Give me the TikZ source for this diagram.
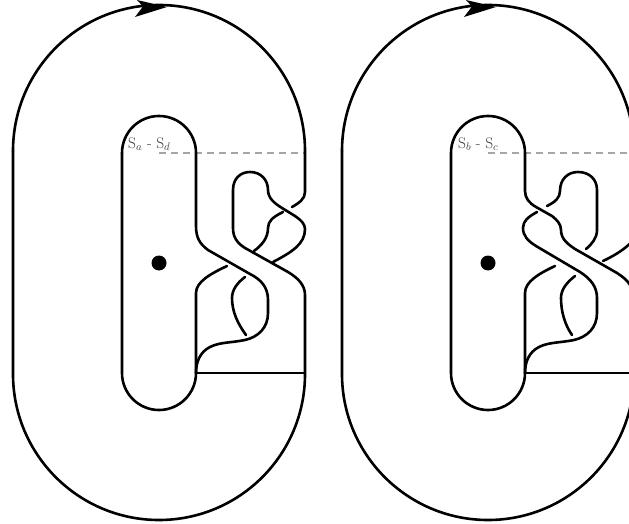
\documentclass[tikz,border=0pt]{standalone}
\tikzset{
  strand/.style={line width=2.6bp,line cap=round,line join=round},
  seam/.style={line width=1.6bp,draw=black!35,dash pattern=on 6.5bp off 5.5bp},
  lab/.style={text=black!75,font=\fontsize{15.5}{18}\selectfont,inner sep=0pt,anchor=west},
  head/.style={fill=black,draw=none}
}
\begin{document}
\begin{tikzpicture}[x=1bp,y=-1bp]
\useasboundingbox (0,0) rectangle (629,524);
\clip (0,0) rectangle (629,524);
% ---------- left diagram ----------
\draw[seam] (159,153) -- (305,153);
\node[lab] (labL) at (128,144) {S$_a$ - S$_d$};
\draw[strand] (13,151) arc[start angle=180,end angle=360,radius=146] -- (305,192)
  .. controls (305,199) and (299,203) .. (292,207);
\draw[strand] (13,151) -- (13,374) arc[start angle=180,end angle=0,radius=146] -- (305,295)
  .. controls (305,285) and (298,278) .. (288,272) -- (245,248)
  .. controls (237,243) and (233,237) .. (233,228) -- (233,190)
  .. controls (233,178) and (241,172) .. (250,172)
  .. controls (261,172) and (268,180) .. (268,190)
  .. controls (268,198) and (274,203) .. (282,208) -- (295,216)
  .. controls (301,220) and (305,224) .. (305,229)
  .. controls (305,244) and (292,252) .. (273,262);
\draw[strand] (122,153) arc[start angle=180,end angle=360,radius=37] -- (196,226)
  .. controls (196,238) and (200,244) .. (208,250) -- (250,274)
  .. controls (262,280) and (268,288) .. (268,300) -- (268,313)
  .. controls (268,328) and (258,337) .. (245,340)
  .. controls (230,343) and (220,342) .. (210,347)
  .. controls (200,352) and (196,362) .. (196,373);
\draw[strand] (122,153) -- (122,373) arc[start angle=180,end angle=0,radius=37] -- (196,293)
  .. controls (196,282) and (210,274) .. (227,266);
\draw[strand] (283,212) .. controls (273,217) and (268,221) .. (268,228)
  .. controls (268,238) and (262,245) .. (254,251);
\draw[strand] (245,277) .. controls (237,283) and (232,290) .. (232,298)
  .. controls (232,312) and (238,324) .. (246,335);
\draw[strand] (196,373) -- (305,373);
\fill[black] (159,263) circle[radius=7.5];
\fill[head] (167,7) -- (137,0) -- (143,6.5) -- (135,17) -- cycle;
% ---------- right diagram ----------
\draw[seam] (488,153) -- (634,153);
\node[lab] (labR) at (458,144) {S$_b$ - S$_c$};
\draw[strand] (342,151) arc[start angle=180,end angle=360,radius=146];
\draw[strand] (342,151) -- (342,374) arc[start angle=180,end angle=0,radius=146] -- (634,300)
  .. controls (634,287) and (628,280) .. (617,273) -- (575,249)
  .. controls (566,243) and (561,238) .. (561,230)
  .. controls (561,224) and (557,220) .. (552,216) -- (536,207)
  .. controls (529,203) and (525,198) .. (525,191) -- (525,153)
  arc[start angle=360,end angle=180,radius=37] -- (451,373)
  arc[start angle=180,end angle=0,radius=37] -- (525,293)
  .. controls (525,282) and (538,274) .. (555,266);
\draw[strand] (547,206) .. controls (555,202) and (560,198) .. (560,191)
  .. controls (560,179) and (568,172) .. (578,172)
  .. controls (589,172) and (597,179) .. (597,190) -- (597,230)
  .. controls (597,238) and (592,244) .. (586,249);
\draw[strand] (537,212) .. controls (528,217) and (523,221) .. (523,228)
  .. controls (523,236) and (528,241) .. (536,246) -- (580,272)
  .. controls (591,279) and (597,287) .. (597,298) -- (597,313)
  .. controls (597,328) and (587,337) .. (574,340)
  .. controls (559,343) and (549,342) .. (539,347)
  .. controls (529,352) and (525,362) .. (525,373);
\draw[strand] (575,276) .. controls (566,283) and (561,290) .. (561,298)
  .. controls (561,312) and (565,325) .. (572,335);
\draw[strand] (603,261) .. controls (620,253) and (634,243) .. (640,230);
\draw[strand] (525,373) -- (634,373);
\fill[black] (488,263) circle[radius=7.5];
\fill[head] (496,7) -- (466,0) -- (472,6.5) -- (464,17) -- cycle;
\end{tikzpicture}
\end{document}
